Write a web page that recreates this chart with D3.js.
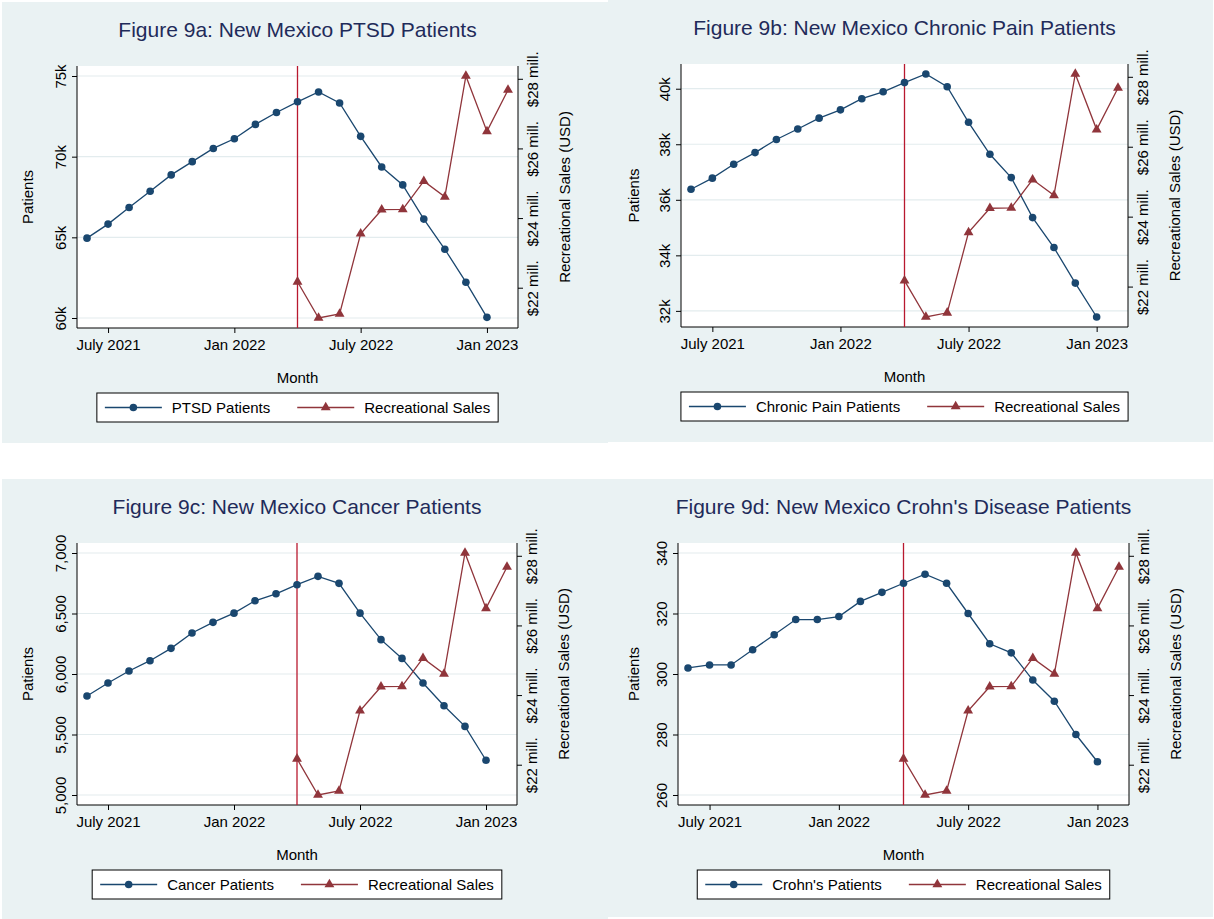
<!DOCTYPE html>
<html>
<head>
<meta charset="utf-8">
<script src="https://cdn.jsdelivr.net/npm/d3@7"></script>
<style>
  body { margin: 0; background: #fff; }
  svg { display: block; font-family: "Liberation Sans", Arial, Helvetica, sans-serif; }
</style>
</head>
<body>
<svg id="chart" width="1214" height="919"></svg>
<script>
// months on the x axis, June 2021 .. Feb 2023
var months = ["2021-06","2021-07","2021-08","2021-09","2021-10","2021-11","2021-12",
              "2022-01","2022-02","2022-03","2022-04","2022-05","2022-06","2022-07",
              "2022-08","2022-09","2022-10","2022-11","2022-12","2023-01","2023-02"];
var tickMonths = ["2021-07","2022-01","2022-07","2023-01"];
var tickLabels = ["July 2021","Jan 2022","July 2022","Jan 2023"];
var lawMonth = "2022-04";

// patients are reported June 2021 .. Jan 2023
var patientMonths = months.slice(0, 20);
var ptsd = [64950, 65820, 66850, 67860, 68870, 69690, 70510, 71110, 72000, 72740,
            73400, 74010, 73330, 71260, 69360, 68250, 66130, 64260, 62220, 60040];
var chronicPain = [36380, 36780, 37280, 37700, 38170, 38550, 38940, 39240, 39640, 39890,
                   40220, 40530, 40070, 38790, 37640, 36800, 35360, 34280, 33000, 31780];
var cancer = [5818, 5926, 6025, 6110, 6212, 6339, 6427, 6503, 6605, 6663,
              6738, 6807, 6749, 6503, 6284, 6129, 5926, 5738, 5567, 5287];
var crohns = [302, 303, 303, 308, 313, 318, 318, 319, 324, 327,
              330, 333, 330, 320, 310, 307, 298, 291, 280, 271];

var ptsdTicks = [60000, 65000, 70000, 75000];
var chronicTicks = [32000, 34000, 36000, 38000, 40000];
var cancerTicks = [5000, 5500, 6000, 6500, 7000];
var crohnsTicks = [260, 280, 300, 320, 340];

// recreational sales, million USD, April 2022 .. Feb 2023
var salesMonths = months.slice(10);
var sales = [22.17, 21.13, 21.25, 23.55, 24.24, 24.25, 25.06, 24.61, 28.08, 26.49, 27.68];
var salesTicks = [22, 24, 26, 28];

var navy = "#1a476f", maroon = "#90353b", lawRed = "#b8192f";
var bg = "#eaf2f3", grid = "#e3ecee", titleColor = "#1f2b5a";

var kFmt = function(d){ return (d / 1000) + "k"; };

var panels = [
  {bg: [2, 2, 606, 441], plot: [77, 66, 518, 328], title: "Figure 9a: New Mexico PTSD Patients",
   values: ptsd, ticks: ptsdTicks, fmt: kFmt, label: "PTSD Patients"},
  {bg: [608, 0, 605, 442], plot: [681, 64, 1128, 327], title: "Figure 9b: New Mexico Chronic Pain Patients",
   values: chronicPain, ticks: chronicTicks, fmt: kFmt, label: "Chronic Pain Patients"},
  {bg: [2, 479, 606, 440], plot: [77, 543, 517, 805], title: "Figure 9c: New Mexico Cancer Patients",
   values: cancer, ticks: cancerTicks, fmt: d3.format(","), label: "Cancer Patients"},
  {bg: [608, 479, 605, 438], plot: [678, 543, 1129, 805], title: "Figure 9d: New Mexico Crohn's Disease Patients",
   values: crohns, ticks: crohnsTicks, fmt: d3.format("d"), label: "Crohn's Patients"}
];

var svg = d3.select("#chart");

panels.forEach(function(p){
  var g = svg.append("g");
  var L = p.plot[0], T = p.plot[1], R = p.plot[2], B = p.plot[3];

  g.append("rect").attr("x", p.bg[0]).attr("y", p.bg[1])
    .attr("width", p.bg[2]).attr("height", p.bg[3]).attr("fill", bg);
  g.append("rect").attr("x", L).attr("y", T)
    .attr("width", R - L).attr("height", B - T).attr("fill", "#fff");

  var x = d3.scalePoint().domain(months).range([L + 10, R - 10]);
  var y = d3.scaleLinear().domain(d3.extent(p.values.concat(p.ticks))).range([B - 10, T + 10]);
  var y2 = d3.scaleLinear().domain(d3.extent(sales.concat(salesTicks))).range([B - 10, T + 10]);

  // gridlines
  g.selectAll(".grid").data(p.ticks).enter().append("line")
    .attr("x1", L).attr("x2", R)
    .attr("y1", function(d){ return y(d); }).attr("y2", function(d){ return y(d); })
    .attr("stroke", grid).attr("stroke-width", 1.2);

  // left axis
  var ga = g.append("g").attr("transform", "translate(" + L + ",0)")
    .call(d3.axisLeft(y).tickValues(p.ticks).tickFormat(p.fmt).tickSize(5).tickSizeOuter(0));
  ga.select(".domain").remove();
  ga.selectAll("text").attr("x", null).attr("dy", null)
    .attr("text-anchor", "middle").attr("transform", "translate(-11,0) rotate(-90)")
    .attr("font-size", 15).attr("fill", "#000");

  // right axis
  var gr = g.append("g").attr("transform", "translate(" + R + ",0)")
    .call(d3.axisRight(y2).tickValues(salesTicks)
      .tickFormat(function(d){ return "$" + d + " mill."; }).tickSize(5).tickSizeOuter(0));
  gr.select(".domain").remove();
  gr.selectAll("text").attr("x", null).attr("dy", null)
    .attr("text-anchor", "middle").attr("transform", "translate(20,0) rotate(-90)")
    .attr("font-size", 15).attr("fill", "#000");

  // bottom axis
  var gb = g.append("g").attr("transform", "translate(0," + B + ")")
    .call(d3.axisBottom(x).tickValues(tickMonths)
      .tickFormat(function(d){ return tickLabels[tickMonths.indexOf(d)]; }).tickSize(5).tickSizeOuter(0));
  gb.select(".domain").remove();
  gb.selectAll("text").attr("y", 22).attr("dy", null)
    .attr("font-size", 15).attr("fill", "#000");

  g.selectAll(".tick line").attr("stroke", "#000");

  // axis lines
  g.append("path").attr("d", "M" + L + "," + T + "V" + B + "H" + R + "V" + T)
    .attr("fill", "none").attr("stroke", "#000").attr("stroke-width", 1);

  // law line
  g.append("line").attr("x1", x(lawMonth)).attr("x2", x(lawMonth))
    .attr("y1", T).attr("y2", B).attr("stroke", lawRed).attr("stroke-width", 1.3);

  // patients series
  var pts = patientMonths.map(function(m, i){ return [m, p.values[i]]; });
  g.append("path").datum(pts)
    .attr("d", d3.line().x(function(d){ return x(d[0]); }).y(function(d){ return y(d[1]); }))
    .attr("fill", "none").attr("stroke", navy).attr("stroke-width", 1.3);
  g.selectAll(".pt").data(pts).enter().append("circle")
    .attr("cx", function(d){ return x(d[0]); }).attr("cy", function(d){ return y(d[1]); })
    .attr("r", 3.8).attr("fill", navy);

  // sales series
  var sls = salesMonths.map(function(m, i){ return [m, sales[i]]; });
  var tri = d3.symbol().type(d3.symbolTriangle).size(42);
  g.append("path").datum(sls)
    .attr("d", d3.line().x(function(d){ return x(d[0]); }).y(function(d){ return y2(d[1]); }))
    .attr("fill", "none").attr("stroke", maroon).attr("stroke-width", 1.3);
  g.selectAll(".tri").data(sls).enter().append("path")
    .attr("d", tri)
    .attr("transform", function(d){ return "translate(" + x(d[0]) + "," + y2(d[1]) + ")"; })
    .attr("fill", maroon);

  // titles
  var cx = (L + R) / 2, cy = (T + B) / 2;
  g.append("text").attr("x", cx).attr("y", T - 29.5).attr("text-anchor", "middle")
    .attr("font-size", 21).attr("fill", titleColor).text(p.title);
  g.append("text").attr("x", cx).attr("y", B + 55).attr("text-anchor", "middle")
    .attr("font-size", 15).attr("fill", "#000").text("Month");
  g.append("text").attr("text-anchor", "middle")
    .attr("transform", "translate(" + (p.bg[0] + 31) + "," + cy + ") rotate(-90)")
    .attr("font-size", 15).attr("fill", "#000").text("Patients");
  g.append("text").attr("text-anchor", "middle")
    .attr("transform", "translate(" + (R + 52) + "," + cy + ") rotate(-90)")
    .attr("font-size", 15).attr("fill", "#000").text("Recreational Sales (USD)");

  // legend
  var lg = g.append("g");
  var box = lg.append("rect").attr("fill", "#fff").attr("stroke", "#000").attr("stroke-width", 1);
  var t1 = lg.append("text").attr("font-size", 15).attr("fill", "#000").text(p.label);
  var t2 = lg.append("text").attr("font-size", 15).attr("fill", "#000").text("Recreational Sales");
  var w1 = t1.node().getComputedTextLength(), w2 = t2.node().getComputedTextLength();
  var pad = 8, lineW = 57, gap = 10, colGap = 27;
  var total = pad + lineW + gap + w1 + colGap + lineW + gap + w2 + pad;
  var bx = cx - total / 2, by = B + 65, bh = 29, my = by + bh / 2;
  box.attr("x", bx).attr("y", by).attr("width", total).attr("height", bh);
  var l1 = bx + pad, l2 = l1 + lineW + gap + w1 + colGap;
  lg.append("line").attr("x1", l1).attr("x2", l1 + lineW).attr("y1", my).attr("y2", my)
    .attr("stroke", navy).attr("stroke-width", 1.3);
  lg.append("circle").attr("cx", l1 + lineW / 2).attr("cy", my).attr("r", 3.8).attr("fill", navy);
  t1.attr("x", l1 + lineW + gap).attr("y", my + 5.5);
  lg.append("line").attr("x1", l2).attr("x2", l2 + lineW).attr("y1", my).attr("y2", my)
    .attr("stroke", maroon).attr("stroke-width", 1.3);
  lg.append("path").attr("d", tri).attr("transform", "translate(" + (l2 + lineW / 2) + "," + my + ")")
    .attr("fill", maroon);
  t2.attr("x", l2 + lineW + gap).attr("y", my + 5.5);
});
</script>
</body>
</html>
